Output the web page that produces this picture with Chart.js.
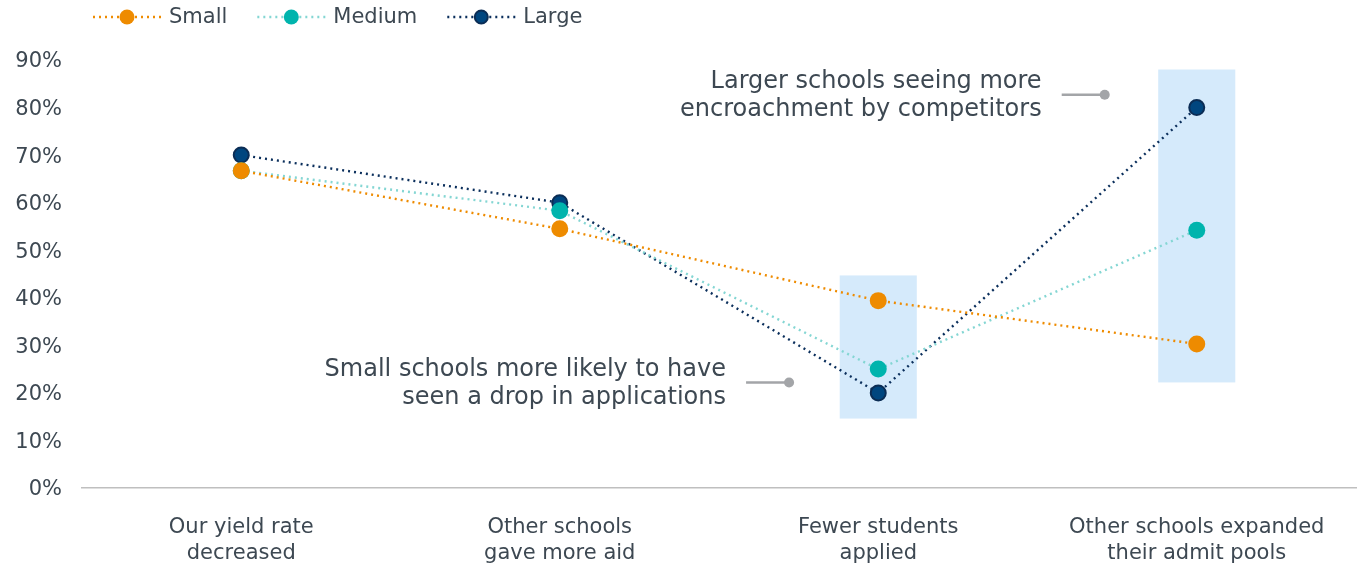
<!DOCTYPE html>
<html>
<head>
<meta charset="utf-8">
<script src="https://cdn.jsdelivr.net/npm/chart.js@4/dist/chart.umd.min.js"></script>
<style>
  html, body { margin: 0; padding: 0; background: #ffffff; }
  #wrap { width: 1358px; height: 564px; position: relative; }
</style>
</head>
<body>
<div id="wrap"><canvas id="c" width="1358" height="564"></canvas></div>
<script>
// Reasons for enrollment decline, share of schools by size
const categories = [
  ['Our yield rate', 'decreased'],
  ['Other schools', 'gave more aid'],
  ['Fewer students', 'applied'],
  ['Other schools expanded', 'their admit pools']
];
const seriesNames = ['Small', 'Medium', 'Large'];
const smallValues  = [66.7, 54.5, 39.4, 30.3];
const mediumValues = [66.7, 58.3, 25.0, 54.2];
const largeValues  = [70.0, 60.0, 20.0, 80.0];
const yTicks = [0, 10, 20, 30, 40, 50, 60, 70, 80, 90];

const callouts = [
  { lines: ['Small schools more likely to have', 'seen a drop in applications'] },
  { lines: ['Larger schools seeing more', 'encroachment by competitors'] }
];

const FONT = '"DejaVu Sans", Verdana, sans-serif';
const TEXT = '#3d4852';

const colors = {
  Small:  { line: '#ee8b00', fill: '#ee8b00', border: '#ee8b00', bw: 0 },
  Medium: { line: '#84d6d3', fill: '#00b4ad', border: '#00b4ad', bw: 0 },
  Large:  { line: '#0b2f5c', fill: '#00467f', border: '#0b2d55', bw: 2 }
};

function makeSet(name, values) {
  const c = colors[name];
  return {
    label: name,
    data: values,
    borderColor: c.line,
    borderWidth: 2.4,
    borderDash: [2, 4],
    borderCapStyle: 'butt',
    tension: 0,
    fill: false,
    pointRadius: c.bw ? 7.5 : 8.5,
    pointHoverRadius: c.bw ? 7.5 : 8.5,
    pointBackgroundColor: c.fill,
    pointBorderColor: c.border,
    pointBorderWidth: c.bw
  };
}

// Shaded bands behind the highlighted categories
const bandPlugin = {
  id: 'bands',
  beforeDatasetsDraw(chart, args, opts) {
    const { ctx, scales: { x, y } } = chart;
    ctx.save();
    ctx.fillStyle = opts.color;
    opts.items.forEach(b => {
      const x0 = x.getPixelForValue(b.index - b.half);
      const x1 = x.getPixelForValue(b.index + b.half);
      const y0 = y.getPixelForValue(b.top);
      const y1 = y.getPixelForValue(b.bottom);
      ctx.fillRect(x0, y0, x1 - x0, y1 - y0);
    });
    ctx.restore();
  }
};

// Text callouts with a short pointer line
const calloutPlugin = {
  id: 'callouts',
  afterDatasetsDraw(chart, args, opts) {
    const { ctx, scales: { x, y } } = chart;
    ctx.save();
    opts.items.forEach((c, i) => {
      const info = callouts[i];
      const yy = y.getPixelForValue(c.y);
      const tx = x.getPixelForValue(c.textRight);
      ctx.font = '24px ' + FONT;
      ctx.fillStyle = TEXT;
      ctx.textAlign = 'right';
      ctx.textBaseline = 'middle';
      const lh = 28;
      const start = yy + c.textShift - (info.lines.length - 1) * lh / 2;
      info.lines.forEach((t, k) => ctx.fillText(t, tx, start + k * lh));
      const lx0 = x.getPixelForValue(c.lineFrom);
      const lx1 = x.getPixelForValue(c.lineTo);
      ctx.strokeStyle = '#a3a5a8';
      ctx.lineWidth = 2.5;
      ctx.beginPath();
      ctx.moveTo(lx0, yy);
      ctx.lineTo(lx1, yy);
      ctx.stroke();
      ctx.fillStyle = '#a3a5a8';
      ctx.beginPath();
      ctx.arc(lx1, yy, 5, 0, Math.PI * 2);
      ctx.fill();
    });
    ctx.restore();
  }
};

// Legend drawn with a dotted line and a marker for each series
const legendPlugin = {
  id: 'dotLegend',
  afterDraw(chart, args, opts) {
    const { ctx } = chart;
    ctx.save();
    ctx.font = '21px ' + FONT;
    ctx.textBaseline = 'middle';
    ctx.textAlign = 'left';
    let xPos = opts.x;
    const yPos = opts.y;
    chart.data.datasets.forEach(ds => {
      ctx.strokeStyle = ds.borderColor;
      ctx.lineWidth = 2.4;
      ctx.setLineDash([2, 4]);
      ctx.beginPath();
      ctx.moveTo(xPos, yPos);
      ctx.lineTo(xPos + opts.lineLen, yPos);
      ctx.stroke();
      ctx.setLineDash([]);
      const mx = xPos + opts.lineLen / 2;
      ctx.fillStyle = ds.pointBackgroundColor;
      ctx.beginPath();
      ctx.arc(mx, yPos, ds.pointBorderWidth ? 6.5 : 7.5, 0, Math.PI * 2);
      ctx.fill();
      if (ds.pointBorderWidth) {
        ctx.strokeStyle = ds.pointBorderColor;
        ctx.lineWidth = 2;
        ctx.stroke();
      }
      const tx = xPos + opts.lineLen + opts.gap;
      ctx.fillStyle = TEXT;
      ctx.fillText(ds.label, tx, yPos + 1);
      xPos = tx + ctx.measureText(ds.label).width + opts.itemGap;
    });
    ctx.restore();
  }
};

new Chart(document.getElementById('c'), {
  type: 'line',
  data: {
    labels: categories,
    datasets: [
      makeSet(seriesNames[0], smallValues),
      makeSet(seriesNames[1], mediumValues),
      makeSet(seriesNames[2], largeValues)
    ]
  },
  options: {
    responsive: false,
    animation: false,
    layout: { autoPadding: false, padding: { top: 60, right: 2, bottom: 0, left: 0 } },
    plugins: {
      legend: { display: false },
      tooltip: { enabled: false },
      bands: {
        color: '#d5eafb',
        items: [
          { index: 2, half: 0.121, top: 44.7, bottom: 14.6 },
          { index: 3, half: 0.121, top: 88.0, bottom: 22.2 }
        ]
      },
      callouts: {
        items: [
          { y: 22.2, textRight: 1.522, textShift: 1, lineFrom: 1.585, lineTo: 1.72 },
          { y: 82.7, textRight: 2.513, textShift: 1, lineFrom: 2.576, lineTo: 2.711 }
        ]
      },
      dotLegend: { x: 93, y: 17, lineLen: 68, gap: 8, itemGap: 30 }
    },
    scales: {
      x: {
        offset: true,
        grid: { display: false, drawTicks: false },
        border: { display: true, color: '#bfbfbf', width: 1.5 },
        ticks: {
          padding: 27,
          color: TEXT,
          font: { family: FONT, size: 21, lineHeight: 1.22 },
          maxRotation: 0,
          autoSkip: false
        },
        afterFit(s) { s.height = 76; s.paddingLeft = 0; s.paddingRight = 0; }
      },
      y: {
        min: 0,
        max: 90,
        afterBuildTicks(s) { s.ticks = yTicks.map(v => ({ value: v })); },
        grid: { display: false, drawTicks: false },
        border: { display: false },
        ticks: {
          padding: 20,
          labelOffset: 2,
          color: TEXT,
          font: { family: FONT, size: 21 },
          callback: v => v + '%'
        },
        afterFit(s) { s.width = 82; s.paddingTop = 0; s.paddingBottom = 0; }
      }
    }
  },
  plugins: [bandPlugin, calloutPlugin, legendPlugin]
});
</script>
</body>
</html>
